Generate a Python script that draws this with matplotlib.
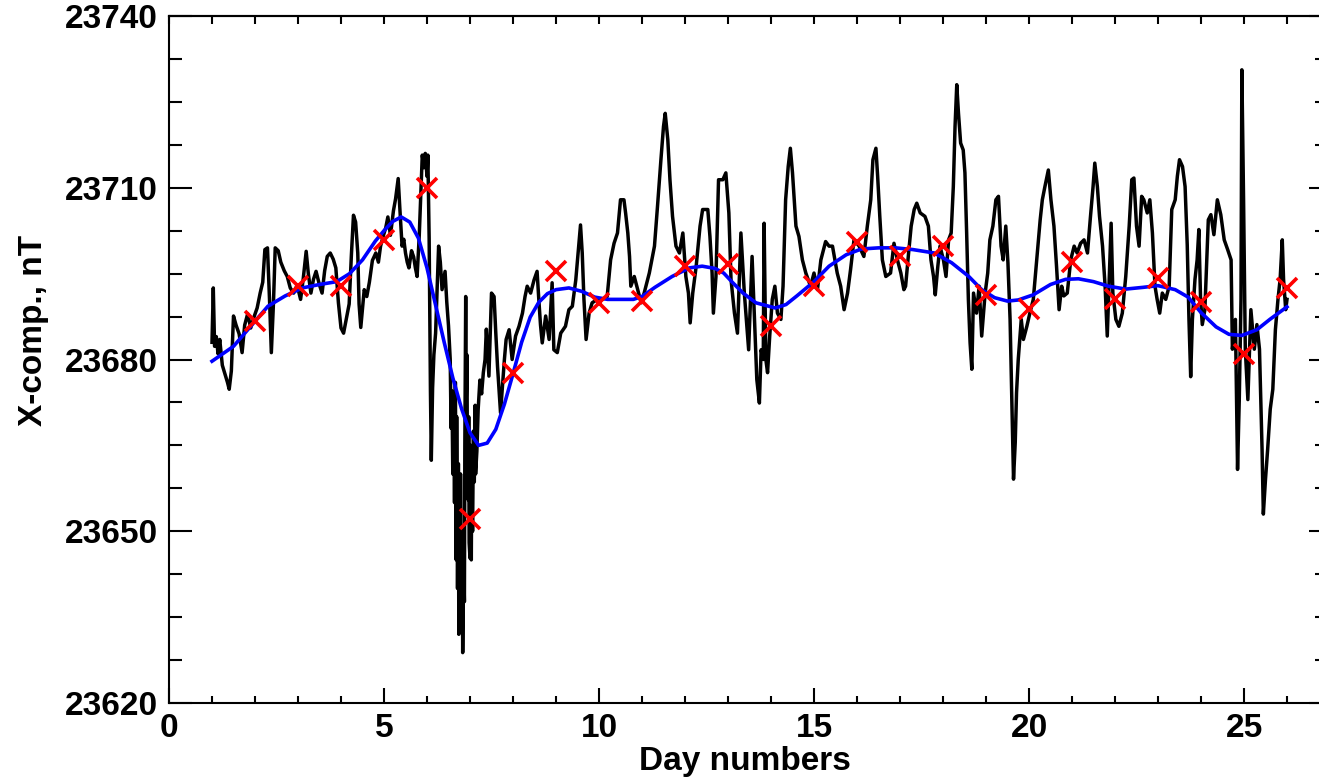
import matplotlib
matplotlib.use('Agg')
import matplotlib.pyplot as plt
from matplotlib.ticker import MultipleLocator, NullFormatter


#### Data

# Raw X-component record, day number and field in nT
raw_days = [
    1.00, 1.03, 1.06, 1.10, 1.14, 1.18, 1.24, 1.30, 1.36, 1.40, 1.45, 1.50, 1.56, 1.63, 1.70,
    1.76, 1.83, 1.90, 1.98, 2.05, 2.12, 2.18, 2.23, 2.29, 2.34, 2.38, 2.43, 2.47, 2.54, 2.60,
    2.68, 2.75, 2.82, 2.90, 2.98, 3.06, 3.12, 3.19, 3.24, 3.30, 3.36, 3.42, 3.50, 3.56, 3.62,
    3.68, 3.75, 3.82, 3.88, 3.94, 4.00, 4.06, 4.12, 4.19, 4.24, 4.29, 4.34, 4.39, 4.42, 4.46,
    4.50, 4.54, 4.60, 4.66, 4.73, 4.81, 4.87, 4.92, 4.98, 5.04, 5.09, 5.15, 5.22, 5.27, 5.33,
    5.37, 5.42, 5.46, 5.50, 5.54, 5.58, 5.64, 5.69, 5.73, 5.77, 5.82, 5.86, 5.89, 5.93, 5.96,
    6.00, 6.02, 6.05, 6.08, 6.10, 6.13, 6.16, 6.20, 6.24, 6.27, 6.31, 6.35, 6.42, 6.46, 6.50,
    6.54, 6.56, 6.58, 6.60, 6.62, 6.64, 6.66, 6.68, 6.69, 6.71, 6.73, 6.74, 6.75, 6.77, 6.78,
    6.79, 6.81, 6.82, 6.83, 6.85, 6.87, 6.88, 6.90, 6.91, 6.93, 6.94, 6.96, 6.97, 6.98, 7.00,
    7.02, 7.03, 7.04, 7.06, 7.08, 7.10, 7.12, 7.13, 7.16,
    7.19, 7.23, 7.27, 7.31, 7.35, 7.38, 7.44, 7.50, 7.56, 7.60, 7.64, 7.71, 7.76,
    7.80, 7.84, 7.91, 7.98, 8.06, 8.14, 8.22, 8.28, 8.33, 8.41, 8.49, 8.56, 8.60, 8.64, 8.68,
    8.76, 8.84, 8.91, 8.95, 9.03, 9.11, 9.22, 9.30, 9.38, 9.46, 9.52, 9.57, 9.61, 9.65, 9.70,
    9.77, 9.84, 9.96, 10.08, 10.19, 10.27, 10.35, 10.43, 10.50, 10.58, 10.62, 10.67, 10.71, 10.74, 10.82,
    10.90, 10.98, 11.05, 11.17, 11.29, 11.36, 11.44, 11.50, 11.54, 11.60, 11.65, 11.71, 11.79, 11.87, 11.95,
    12.02, 12.08, 12.12, 12.18, 12.26, 12.35, 12.41, 12.53, 12.58, 12.63, 12.66, 12.72, 12.78, 12.88, 12.95,
    13.02, 13.07, 13.15, 13.22, 13.30, 13.38, 13.48, 13.56, 13.61, 13.67, 13.73, 13.77, 13.82, 13.84, 13.88,
    13.92, 13.97, 14.03, 14.09, 14.15, 14.23, 14.28, 14.34, 14.40, 14.45, 14.50, 14.54, 14.58, 14.65, 14.73,
    14.81, 14.92, 15.00, 15.08, 15.16, 15.27, 15.35, 15.43, 15.54, 15.62, 15.70, 15.78, 15.85, 15.93, 16.05,
    16.16, 16.24, 16.32, 16.37, 16.44, 16.48, 16.53, 16.59, 16.67, 16.78, 16.86, 16.94, 17.02, 17.09, 17.13,
    17.20, 17.26, 17.33, 17.39, 17.47, 17.58, 17.66, 17.72, 17.78, 17.82, 17.88, 17.93, 18.01, 18.07, 18.13,
    18.19, 18.24, 18.28, 18.32, 18.36, 18.41, 18.47, 18.51, 18.55, 18.59, 18.63, 18.67, 18.71, 18.78, 18.84,
    18.90, 18.98, 19.04, 19.09, 19.16, 19.23, 19.29, 19.35, 19.40, 19.46, 19.51, 19.56, 19.60, 19.64, 19.68,
    19.71, 19.75, 19.82, 19.87, 19.95, 20.02, 20.10, 20.18, 20.26, 20.31, 20.37, 20.45, 20.51, 20.58, 20.64,
    20.70, 20.76, 20.81, 20.89, 20.97, 21.05, 21.12, 21.20, 21.28, 21.36, 21.43, 21.49, 21.53, 21.59, 21.64,
    21.71, 21.77, 21.82, 21.88, 21.91, 21.95, 22.02, 22.09, 22.17, 22.25, 22.33, 22.39, 22.44, 22.50, 22.56,
    22.62, 22.67, 22.75, 22.81, 22.87, 22.93, 22.98, 23.04, 23.10, 23.18, 23.26, 23.32, 23.40, 23.45, 23.50,
    23.57, 23.63, 23.68, 23.72, 23.76, 23.80, 23.86, 23.91, 23.95, 23.99, 24.03, 24.09, 24.17, 24.23, 24.30,
    24.38, 24.46, 24.54, 24.62, 24.70, 24.73, 24.80, 24.85, 24.89, 24.93, 24.95, 24.99, 25.03, 25.09, 25.16,
    25.24, 25.30, 25.36, 25.42, 25.45, 25.50, 25.55, 25.61, 25.67, 25.73, 25.79, 25.84, 25.89, 25.92, 25.97,
    26.00,
]
raw_nt = [
    23683.0, 23692.5, 23682.3, 23684.0, 23681.0, 23683.5, 23679.0, 23677.5, 23676.0, 23674.8, 23678.0, 23687.6, 23686.0, 23684.5, 23681.2,
    23686.0, 23688.0, 23685.5, 23687.5, 23689.0, 23691.6, 23693.5, 23699.2, 23699.5, 23690.0, 23681.2, 23690.0, 23699.5, 23699.0, 23697.0,
    23695.5, 23694.5, 23692.5, 23691.6, 23693.0, 23690.5, 23694.0, 23698.9, 23695.0, 23691.6, 23694.0, 23695.4, 23693.0, 23691.6, 23695.5,
    23698.0, 23698.6, 23697.5, 23696.0, 23689.9, 23685.5, 23684.6, 23687.0, 23689.7, 23698.0, 23705.2, 23704.0, 23698.6, 23689.7, 23685.6,
    23689.0, 23692.2, 23691.0, 23693.5, 23697.3, 23698.6, 23697.0, 23699.8, 23701.5, 23703.0, 23704.9, 23701.7, 23706.0, 23708.1, 23711.6,
    23706.2, 23699.8, 23701.0, 23698.6, 23697.0, 23696.0, 23699.0, 23697.9, 23696.0, 23694.5, 23701.7, 23710.0, 23715.7, 23713.5, 23716.0,
    23712.0, 23715.7, 23701.1, 23674.5, 23662.4, 23675.0, 23680.8, 23684.6, 23693.0, 23699.8, 23697.0, 23692.2, 23695.4, 23690.0, 23685.9,
    23680.0, 23668.0, 23674.5, 23660.0, 23672.0, 23655.0, 23676.0, 23645.0, 23670.0, 23640.0, 23661.8, 23632.0, 23648.0, 23635.2, 23660.0,
    23640.0, 23633.3, 23650.0, 23628.8, 23645.0, 23637.7, 23665.0, 23691.0, 23672.0, 23680.8, 23660.0, 23655.5, 23670.0, 23648.0, 23645.3,
    23665.0, 23645.0, 23659.3, 23650.0, 23667.5, 23658.6, 23672.0, 23660.0, 23664.0,
    23671.3, 23676.4, 23674.0, 23677.7, 23680.0, 23685.3, 23677.1, 23691.6, 23691.0, 23684.6, 23678.8, 23670.7, 23676.0,
    23680.0, 23683.5, 23685.2, 23680.0, 23684.1, 23685.8, 23688.1, 23691.0, 23692.8, 23691.6, 23693.9, 23695.4, 23690.5, 23686.0, 23682.9,
    23687.6, 23683.5, 23693.4, 23681.7, 23681.2, 23684.6, 23685.8, 23688.7, 23689.3, 23693.9, 23699.2, 23703.5, 23698.6, 23690.5, 23683.5,
    23688.1, 23689.9, 23690.5, 23690.5, 23691.0, 23697.4, 23700.3, 23702.1, 23707.9, 23707.9, 23705.5, 23702.1, 23698.0, 23692.8, 23694.5,
    23692.2, 23689.9, 23691.6, 23695.1, 23699.8, 23706.7, 23714.9, 23720.7, 23723.0, 23718.4, 23711.4, 23705.0, 23699.8, 23698.6, 23702.1,
    23694.5, 23691.6, 23686.4, 23691.6, 23696.3, 23703.3, 23706.2, 23706.2, 23701.5, 23695.1, 23688.1, 23694.5, 23711.4, 23711.4, 23712.6,
    23705.6, 23694.0, 23688.1, 23684.6, 23702.1, 23691.6, 23681.7, 23698.0, 23688.1, 23676.5, 23672.4, 23681.7, 23680.0, 23703.8, 23680.0,
    23677.7, 23684.1, 23690.5, 23692.8, 23688.1, 23687.0, 23692.8, 23707.9, 23713.7, 23716.9, 23712.6, 23707.9, 23703.3, 23701.5, 23697.4,
    23695.1, 23692.8, 23695.1, 23692.2, 23697.4, 23700.6, 23699.8, 23699.8, 23695.1, 23692.8, 23688.7, 23691.6, 23695.7, 23700.9, 23699.8,
    23698.0, 23703.3, 23707.9, 23714.9, 23716.9, 23712.0, 23705.0, 23697.4, 23694.5, 23695.1, 23700.3, 23697.4, 23695.1, 23692.2, 23692.8,
    23698.6, 23703.3, 23706.2, 23707.3, 23705.6, 23705.0, 23703.3, 23697.4, 23694.5, 23691.3, 23696.3, 23699.8, 23697.4, 23694.5, 23700.9,
    23702.1, 23710.2, 23720.7, 23728.0, 23723.0, 23717.8, 23716.6, 23712.6, 23702.1, 23690.5, 23682.9, 23678.3, 23691.6, 23688.1, 23692.8,
    23684.1, 23691.6, 23695.1, 23700.9, 23703.3, 23707.9, 23708.5, 23699.8, 23697.4, 23703.3, 23696.9, 23687.0, 23673.0, 23659.1, 23665.5,
    23674.2, 23680.0, 23687.0, 23683.5, 23685.8, 23688.1, 23690.5, 23697.4, 23704.4, 23707.9, 23710.2, 23713.1, 23707.9, 23703.3, 23696.3,
    23688.7, 23692.8, 23691.1, 23691.6, 23697.4, 23699.8, 23698.6, 23700.3, 23700.9, 23698.6, 23705.0, 23710.2, 23714.3, 23710.2, 23705.0,
    23699.8, 23692.8, 23684.1, 23697.4, 23703.8, 23691.6, 23687.0, 23685.8, 23688.1, 23694.5, 23703.3, 23711.4, 23711.7, 23703.3, 23699.8,
    23708.5, 23707.9, 23705.6, 23707.9, 23702.1, 23692.8, 23690.5, 23688.1, 23691.6, 23690.5, 23692.8, 23706.2, 23707.9, 23712.0, 23714.9,
    23713.7, 23710.2, 23700.0, 23687.0, 23677.0, 23687.0, 23694.0, 23697.4, 23702.7, 23690.5, 23686.1, 23688.7, 23704.4, 23705.3, 23701.8,
    23707.9, 23705.3, 23700.9, 23699.2, 23697.4, 23681.8, 23687.0, 23660.8, 23673.0, 23690.5, 23730.6, 23707.9, 23681.8, 23673.0, 23688.7,
    23681.8, 23686.1, 23681.8, 23664.3, 23653.0, 23659.1, 23664.3, 23671.3, 23674.8, 23685.2, 23690.5, 23694.0, 23700.9, 23694.0, 23688.7,
    23690.5,
]

# Smoothed curve (blue)
smooth_days = [
    1.0, 1.5, 1.9, 2.3, 2.7, 3.1, 3.5, 3.9, 4.2, 4.5, 4.8, 5.0, 5.2, 5.4, 5.6,
    5.8, 6.0, 6.2, 6.4, 6.6, 6.8, 7.0, 7.2, 7.4, 7.6, 7.8, 8.0, 8.2, 8.4, 8.6,
    8.8, 9.0, 9.3, 9.6, 9.9, 10.2, 10.5, 10.8, 11.0, 11.3, 11.7, 12.1, 12.4, 12.7, 12.9,
    13.1, 13.35, 13.65, 13.95, 14.1, 14.35, 14.6, 15.0, 15.35, 15.75, 16.1, 16.5, 16.9, 17.3, 17.8,
    18.2, 18.6, 18.9, 19.2, 19.5, 19.75, 20.1, 20.5, 20.85, 21.15, 21.5, 21.85, 22.25, 22.65, 23.0,
    23.4, 23.7, 24.0, 24.35, 24.65, 24.95, 25.3, 25.6, 26.0,
]
smooth_nt = [
    23679.7, 23682.3, 23685.8, 23689.3, 23691.1, 23692.5, 23693.1, 23693.6, 23695.0, 23697.4, 23700.7, 23702.5, 23704.1, 23704.9, 23704.0,
    23701.2, 23696.0, 23689.5, 23683.0, 23676.8, 23671.5, 23667.2, 23665.0, 23665.4, 23667.8, 23672.2, 23677.5, 23683.0, 23687.4, 23690.0,
    23691.5, 23692.2, 23692.5, 23691.9, 23690.9, 23690.5, 23690.5, 23690.5, 23691.0, 23692.6, 23694.5, 23696.0, 23696.3, 23695.9, 23695.1,
    23693.5, 23691.6, 23689.9, 23689.3, 23689.0, 23689.6, 23691.1, 23693.6, 23696.3, 23698.3, 23699.3, 23699.5, 23699.5, 23699.2, 23698.6,
    23696.9, 23694.5, 23692.2, 23690.8, 23690.2, 23690.4, 23691.3, 23693.1, 23694.0, 23694.1, 23693.6, 23692.8, 23692.3, 23692.6, 23692.9,
    23692.2, 23690.9, 23688.2, 23685.7, 23684.4, 23684.2, 23685.2, 23687.0, 23689.2,
]

# Daily values (red crosses)
daily_days = [2, 3, 4, 5, 6, 7, 8, 9, 10, 11, 12, 13, 14,
              15, 16, 17, 18, 19, 20, 21, 22, 23, 24, 25, 26]
daily_nt = [23686.7, 23692.8, 23692.8, 23700.9, 23710.0, 23652.2, 23677.6, 23695.4, 23689.9,
            23690.2, 23696.4, 23696.7, 23685.8, 23692.9, 23700.5, 23698.1, 23699.9, 23691.3,
            23688.8, 23697.0, 23690.5, 23694.2, 23690.0, 23681.0, 23692.5]

y_major = [23620, 23650, 23680, 23710, 23740]


#### Plot

W, H = 1319, 780
plt.rcParams['font.family'] = ['Liberation Sans', 'DejaVu Sans']
plt.rcParams['font.weight'] = 'bold'
plt.rcParams['font.size'] = 24

fig = plt.figure(figsize=(W / 100, H / 100), dpi=100)
ax = fig.add_axes([169 / W, 1 - 703 / H, (1321 - 169) / W, 687 / H])

ax.plot(raw_days, raw_nt, color='black', lw=2.5, zorder=2)
ax.plot(smooth_days, smooth_nt, color='#0000ff', lw=2.6, zorder=3)
ax.plot(daily_days, daily_nt, ls='none', marker='x', ms=14, mew=2.6, color='red', zorder=4)

ax.set_xlim(0, (1321 - 169) / 43)
ax.set_ylim(y_major[0], y_major[-1])

for side in ['left', 'bottom', 'top']:
    ax.spines[side].set_linewidth(1.5)
ax.spines['right'].set_visible(False)

y_minor = [y_major[0] + 7.5 * i for i in range(17)]

ax.xaxis.set_major_locator(MultipleLocator(5))
ax.xaxis.set_minor_locator(MultipleLocator(1))
ax.set_yticks(y_major)
ax.set_yticks(y_minor, minor=True)
ax.tick_params(axis='x', which='major', direction='in', length=10.5, width=1.5, pad=7)
ax.tick_params(axis='x', which='minor', direction='in', length=5, width=1.5)
ax.tick_params(axis='y', which='major', direction='in', length=16.5, width=1.5, pad=8)
ax.tick_params(axis='y', which='minor', direction='in', length=9.5, width=1.5)
ax.tick_params(top=False, right=False)

# Top and right ticks have their own lengths
top = ax.secondary_xaxis('top')
top.xaxis.set_major_locator(MultipleLocator(5))
top.xaxis.set_minor_locator(MultipleLocator(1))
top.xaxis.set_major_formatter(NullFormatter())
top.tick_params(which='both', direction='in', length=5.5, width=1.5)
top.spines['top'].set_linewidth(1.5)

right = ax.secondary_yaxis('right')
right.set_yticks(y_major)
right.set_yticks(y_minor, minor=True)
right.yaxis.set_major_formatter(NullFormatter())
right.tick_params(which='major', direction='in', length=8.5, width=1.5)
right.tick_params(which='minor', direction='in', length=4.3, width=1.5)
right.spines['right'].set_visible(False)

ax.set_xlabel('Day numbers', fontweight='bold')
ax.set_ylabel('X-comp., nT', fontweight='bold')
ax.xaxis.set_label_coords(0.5, -0.062)
ax.yaxis.set_label_coords(-0.104, 0.543)

fig.savefig('out.png', dpi=100)
